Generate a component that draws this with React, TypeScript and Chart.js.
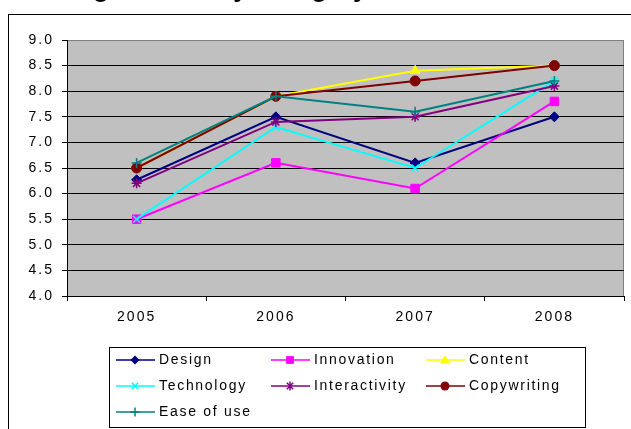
import React, { useEffect, useRef } from 'react';
import { Chart, registerables } from 'chart.js';

Chart.register(...registerables);

const titleText = 'Rating Results by Category';
const years = ['2005', '2006', '2007', '2008'];
const seriesNames = ['Design', 'Innovation', 'Content', 'Technology', 'Interactivity', 'Copywriting', 'Ease of use'];
const design = [6.27, 7.5, 6.6, 7.5];
const innovation = [5.5, 6.6, 6.1, 7.8];
const content = [6.5, 7.9, 8.4, 8.5];
const technology = [5.5, 7.3, 6.5, 8.2];
const interactivity = [6.2, 7.4, 7.5, 8.1];
const copywriting = [6.5, 7.9, 8.2, 8.5];
const easeOfUse = [6.6, 7.9, 7.6, 8.2];
const yMin = 4.0;
const yMax = 9.0;
const yStep = 0.5;

const seriesValues = [design, innovation, content, technology, interactivity, copywriting, easeOfUse];
const seriesColors = ['#000080', '#FF00FF', '#FFFF00', '#00FFFF', '#800080', '#800000', '#008080'];
const seriesStyles = ['rectRot', 'rect', 'triangle', 'crossRot', 'star', 'circle', 'cross'];
const seriesRadius = [5, 6, 5.5, 5, 5, 5, 5];

const FONT = '"Liberation Sans", Arial, sans-serif';

function drawMarker(ctx: CanvasRenderingContext2D, style: string, x: number, y: number, r: number, color: string) {
  ctx.save();
  ctx.fillStyle = color;
  ctx.strokeStyle = color;
  ctx.lineWidth = 1.5;
  ctx.beginPath();
  if (style === 'rectRot') {
    ctx.moveTo(x, y - r); ctx.lineTo(x + r, y); ctx.lineTo(x, y + r); ctx.lineTo(x - r, y); ctx.closePath(); ctx.fill();
  } else if (style === 'rect') {
    const s = Math.SQRT1_2 * r;
    ctx.rect(x - s, y - s, 2 * s, 2 * s); ctx.fill();
  } else if (style === 'triangle') {
    ctx.moveTo(x, y - r); ctx.lineTo(x + r, y + r * 0.6); ctx.lineTo(x - r, y + r * 0.6); ctx.closePath(); ctx.fill();
  } else if (style === 'circle') {
    ctx.arc(x, y, r, 0, Math.PI * 2); ctx.fill();
  } else if (style === 'cross') {
    ctx.moveTo(x - r, y); ctx.lineTo(x + r, y); ctx.moveTo(x, y - r); ctx.lineTo(x, y + r); ctx.stroke();
  } else if (style === 'crossRot') {
    const d = r * Math.SQRT1_2;
    ctx.moveTo(x - d, y - d); ctx.lineTo(x + d, y + d); ctx.moveTo(x - d, y + d); ctx.lineTo(x + d, y - d); ctx.stroke();
  } else if (style === 'star') {
    const d = r * Math.SQRT1_2;
    ctx.moveTo(x - d, y - d); ctx.lineTo(x + d, y + d); ctx.moveTo(x - d, y + d); ctx.lineTo(x + d, y - d);
    ctx.moveTo(x, y - r); ctx.lineTo(x, y + r); ctx.stroke();
  }
  ctx.restore();
}

const decorPlugin = {
  id: 'decor',
  beforeDraw(chart: any) {
    const { ctx, chartArea } = chart;
    ctx.save();
    ctx.fillStyle = '#FFFFFF';
    ctx.fillRect(0, 0, chart.width, chart.height);
    // outer chart border
    ctx.strokeStyle = '#000000';
    ctx.lineWidth = 1;
    ctx.strokeRect(8.5, 14.5, chart.width + 20, chart.height + 20);
    // plot area
    ctx.fillStyle = '#C0C0C0';
    ctx.fillRect(chartArea.left, chartArea.top, chartArea.right - chartArea.left, chartArea.bottom - chartArea.top);
    ctx.strokeStyle = '#808080';
    ctx.strokeRect(chartArea.left + 0.5, chartArea.top + 0.5, chartArea.right - chartArea.left - 1, chartArea.bottom - chartArea.top);
    // title (cut off at the top of the picture)
    ctx.fillStyle = '#000000';
    ctx.font = 'bold 26px ' + FONT;
    ctx.textBaseline = 'alphabetic';
    ctx.textAlign = 'left';
    ctx.fillText(titleText, 28, -3.5);
    ctx.restore();
    (ctx as any).letterSpacing = '2px';
  },
  afterDraw(chart: any) {
    const { ctx } = chart;
    ctx.save();
    (ctx as any).letterSpacing = '1.7px';
    ctx.strokeStyle = '#000000';
    ctx.lineWidth = 1;
    ctx.strokeRect(109.5, 347.5, 476, 80);
    const colX = [116, 271, 426];
    const rowY = [360, 386, 412];
    ctx.font = '14px ' + FONT;
    ctx.textBaseline = 'middle';
    ctx.textAlign = 'left';
    seriesNames.forEach((name, i) => {
      const x = colX[i % 3];
      const y = rowY[Math.floor(i / 3)];
      ctx.save();
      ctx.globalAlpha = 0.75;
      ctx.strokeStyle = seriesColors[i];
      ctx.lineWidth = 2;
      ctx.beginPath();
      ctx.moveTo(x, y);
      ctx.lineTo(x + 39, y);
      ctx.stroke();
      ctx.restore();
      drawMarker(ctx, seriesStyles[i], x + 19, y, seriesRadius[i] - 0.5, seriesColors[i]);
      ctx.fillStyle = '#000000';
      ctx.fillText(name, x + 43, y + 0.5);
    });
    ctx.restore();
  },
};

export default function App() {
  const ref = useRef<HTMLCanvasElement | null>(null);
  useEffect(() => {
    document.body.style.margin = '0';
    if (!ref.current) return;
    const datasets = seriesNames.map((name, i) => ({
      label: name,
      data: seriesValues[i],
      borderColor: seriesColors[i],
      backgroundColor: seriesColors[i],
      pointBackgroundColor: seriesColors[i],
      pointBorderColor: seriesColors[i],
      pointStyle: seriesStyles[i] as any,
      pointRadius: seriesRadius[i],
      pointBorderWidth: ['cross', 'crossRot', 'star'].includes(seriesStyles[i]) ? 1.5 : 1,
      borderWidth: 2,
      tension: 0,
      fill: false,
      order: seriesNames.length - i,
    }));
    const chart = new Chart(ref.current, {
      type: 'line',
      data: { labels: years, datasets },
      plugins: [decorPlugin],
      options: {
        responsive: false,
        animation: false,
        layout: { padding: { left: 8, top: 40, right: 4, bottom: 103 } },
        plugins: { legend: { display: false }, title: { display: false }, tooltip: { enabled: false } },
        scales: {
          x: {
            type: 'category',
            offset: true,
            afterFit: (s: any) => { s.height = 30; },
            grid: { offset: true, drawOnChartArea: false, drawTicks: true, tickLength: 5, color: '#000000' },
            border: { color: '#000000', width: 1 },
            ticks: { color: '#000000', font: { family: FONT, size: 14 }, padding: 8, maxRotation: 0 },
          },
          y: {
            min: yMin,
            max: yMax,
            afterFit: (s: any) => { s.width = 59; },
            grid: {
              color: (c: any) => (c.tick && c.tick.value === yMax ? '#808080' : '#000000'),
              tickColor: '#000000',
              tickLength: 5,
            },
            border: { color: '#000000', width: 1 },
            ticks: {
              stepSize: yStep,
              color: '#000000',
              font: { family: FONT, size: 14 },
              padding: 8,
              callback: (v: any) => Number(v).toFixed(1),
            },
          },
        },
      },
    });
    return () => chart.destroy();
  }, []);
  return (
    <div style={{ position: 'fixed', left: 0, top: 0, width: 631, height: 429 }}>
      <canvas ref={ref} width={631} height={429} style={{ display: 'block' }} />
    </div>
  );
}
